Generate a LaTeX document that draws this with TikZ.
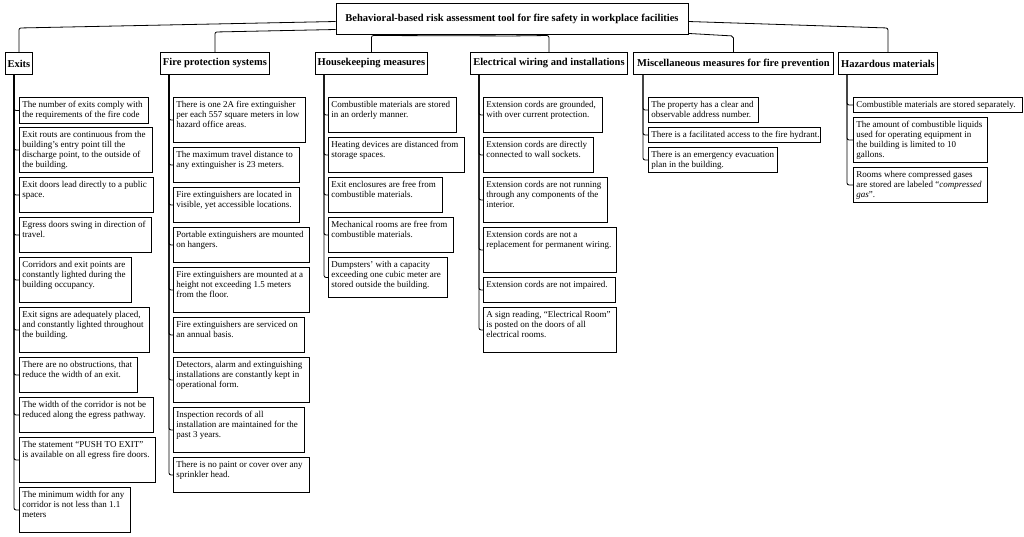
\documentclass[tikz,border=0pt]{standalone}
\usepackage{fontspec}
\setmainfont{Liberation Serif}
\newcommand\ibox[6]{%
  \pgfmathsetmacro\bw{#4-#2-6}\pgfmathsetmacro\bh{#5-#3-4}%
  \node[ibox] (#1) at (#2,#3) {\parbox[t][\bh pt][t]{\bw pt}{\raggedright\vspace*{1.6pt}#6}};}
\begin{document}
\begin{tikzpicture}[x=1pt,y=-1pt,
  ibox/.style={draw,line width=0.9pt,anchor=north west,inner xsep=3pt,inner ysep=2pt,
    font=\fontsize{9}{10}\selectfont},
  cat/.style={draw,line width=0.9pt,anchor=north west,minimum height=22pt,inner sep=0pt,
    font=\bfseries\fontsize{10.5}{12}\selectfont},
  rootbox/.style={draw,line width=0.9pt,minimum width=352pt,minimum height=31pt,inner sep=0pt,
    font=\bfseries\fontsize{10.5}{12}\selectfont},
  conn/.style={line width=0.8pt,rounded corners=2pt}]
\useasboundingbox[fill=white] (0,0) rectangle (1024,536);

\node[rootbox] (root) at (512,18.5) {Behavioral-based risk assessment tool for fire safety in workplace facilities};

\node[cat,minimum width=27pt] (c1) at (5,52) {Exits};
\node[cat,minimum width=109pt] (c2) at (160,52) {Fire protection systems};
\node[cat,minimum width=112pt] (c3) at (315,52) {Housekeeping measures};
\node[cat,minimum width=157pt] (c4) at (470,52) {Electrical wiring and installations};
\node[cat,minimum width=200pt] (c5) at (633,52) {Miscellaneous measures for fire prevention};
\node[cat,minimum width=99pt] (c6) at (838,52) {Hazardous materials};

% top connectors
\coordinate (k1) at (c1.north |- 0,28);
\coordinate (k2) at (c2.north |- 0,32);
\coordinate (k3) at (c3.north |- 0,35.5);
\coordinate (k4) at (c4.north |- 0,35.5);
\coordinate (k5) at (c5.north |- 0,36);
\coordinate (k6) at (c6.north |- 0,28);
\draw[conn] ([yshift=-3pt]root.west) -- (k1) -- (c1.north);
\draw[conn] ([yshift=-11pt]root.west) -- (k2) -- (c2.north);
\draw[conn] ([yshift=-1.5pt]root.south) -- (k3) -- (c3.north);
\draw[conn] ([yshift=-1.5pt]root.south) -- (k4) -- (c4.north);
\draw[conn] ([yshift=1pt]root.south east) -- (k5) -- (c5.north);
\draw[conn] ([yshift=-3pt]root.east) -- (k6) -- (c6.north);

% Exits
\ibox{e1}{19}{97}{148}{123}{The number of exits comply with\\the requirements of the fire code}
\ibox{e2}{19}{127}{152}{172}{Exit routs are continuous from the\\building’s entry point till the\\discharge point, to the outside of\\the building.}
\ibox{e3}{19}{177}{153}{212}{Exit doors lead directly to a public\\space.}
\ibox{e4}{19}{217}{151}{252}{Egress doors swing in direction of\\travel.}
\ibox{e5}{19}{257}{131}{302}{Corridors and exit points are\\constantly lighted during the\\building occupancy.}
\ibox{e6}{19}{307}{149}{352}{Exit signs are adequately placed,\\and constantly lighted throughout\\the building.}
\ibox{e7}{19}{357}{137}{392}{There are no obstructions, that\\reduce the width of an exit.}
\ibox{e8}{19}{397}{153}{432}{The width of the corridor is not be\\reduced along the egress pathway.}
\ibox{e9}{19}{437}{155}{482}{The statement “PUSH TO EXIT”\\is available on all egress fire doors.}
\ibox{e10}{19}{487}{130}{532}{The minimum width for any\\corridor is not less than 1.1\\meters}

% Fire protection
\ibox{f1}{173}{97}{305}{142}{There is one 2A fire extinguisher\\per each 557 square meters in low\\hazard office areas.}
\ibox{f2}{173}{147}{299}{182}{The maximum travel distance to\\any extinguisher is 23 meters.}
\ibox{f3}{173}{187}{299}{222}{Fire extinguishers are located in\\visible, yet accessible locations.}
\ibox{f4}{173}{227}{309}{262}{Portable extinguishers are mounted\\on hangers.}
\ibox{f5}{173}{267}{309}{312}{Fire extinguishers are mounted at a\\height not exceeding 1.5 meters\\from the floor.}
\ibox{f6}{173}{317}{304}{352}{Fire extinguishers are serviced on\\an annual basis.}
\ibox{f7}{173}{357}{309}{402}{Detectors, alarm and extinguishing\\installations are constantly kept in\\operational form.}
\ibox{f8}{173}{407}{304}{452}{Inspection records of all\\installation are maintained for the\\past 3 years.}
\ibox{f9}{173}{457}{309}{492}{There is no paint or cover over any\\sprinkler head.}

% Housekeeping
\ibox{h1}{328}{97}{456}{132}{Combustible materials are stored\\in an orderly manner.}
\ibox{h2}{328}{137}{464}{172}{Heating devices are distanced from\\storage spaces.}
\ibox{h3}{328}{177}{442}{212}{Exit enclosures are free from\\combustible materials.}
\ibox{h4}{328}{217}{453}{252}{Mechanical rooms are free from\\combustible materials.}
\ibox{h5}{328}{257}{447}{297}{Dumpsters' with a capacity\\exceeding one cubic meter are\\stored outside the building.}

% Electrical
\ibox{w1}{483}{97}{602}{132}{Extension cords are grounded,\\with over current protection.}
\ibox{w2}{483}{137}{593}{172}{Extension cords are directly\\connected to wall sockets.}
\ibox{w3}{483}{177}{607}{222}{Extension cords are not running\\through any components of the\\interior.}
\ibox{w4}{483}{227}{616}{272}{Extension cords are not a\\replacement for permanent wiring.}
\ibox{w5}{483}{277}{615}{302}{Extension cords are not impaired.}
\ibox{w6}{483}{307}{616}{352}{A sign reading, “Electrical Room”\\is posted on the doors of all\\electrical rooms.}

% Misc
\ibox{m1}{648}{97}{758}{122}{The property has a clear and\\observable address number.}
\ibox{m2}{648}{127}{820}{142}{\mbox{There is a facilitated access to the fire hydrant.}}
\ibox{m3}{648}{147}{777}{172}{There is an emergency evacuation\\plan in the building.}

% Hazardous
\ibox{z1}{853}{97}{1022}{112}{\mbox{Combustible materials are stored separately.}}
\ibox{z2}{853}{117}{987}{162}{The amount of combustible liquids\\used for operating equipment in\\the building is limited to 10\\gallons.}
\ibox{z3}{853}{167}{987}{202}{Rooms where compressed gases\\are stored are labeled “\textit{compressed}\\\textit{gas}”.}

% trunks
\coordinate (t1) at ([xshift=9pt]c1.south west);
\coordinate (t2) at ([xshift=9pt]c2.south west);
\coordinate (t3) at ([xshift=9pt]c3.south west);
\coordinate (t4) at ([xshift=9pt]c4.south west);
\coordinate (t5) at ([xshift=10pt]c5.south west);
\coordinate (t6) at ([xshift=9pt]c6.south west);
\foreach \i in {1,...,10} \draw[conn] (t1) |- (e\i.west);
\foreach \i in {1,...,9} \draw[conn] (t2) |- (f\i.west);
\foreach \i in {1,...,5} \draw[conn] (t3) |- (h\i.west);
\foreach \i in {1,...,6} \draw[conn] (t4) |- (w\i.west);
\foreach \i in {1,...,3} \draw[conn] (t5) |- (m\i.west);
\foreach \i in {1,...,3} \draw[conn] (t6) |- (z\i.west);
\end{tikzpicture}
\end{document}
